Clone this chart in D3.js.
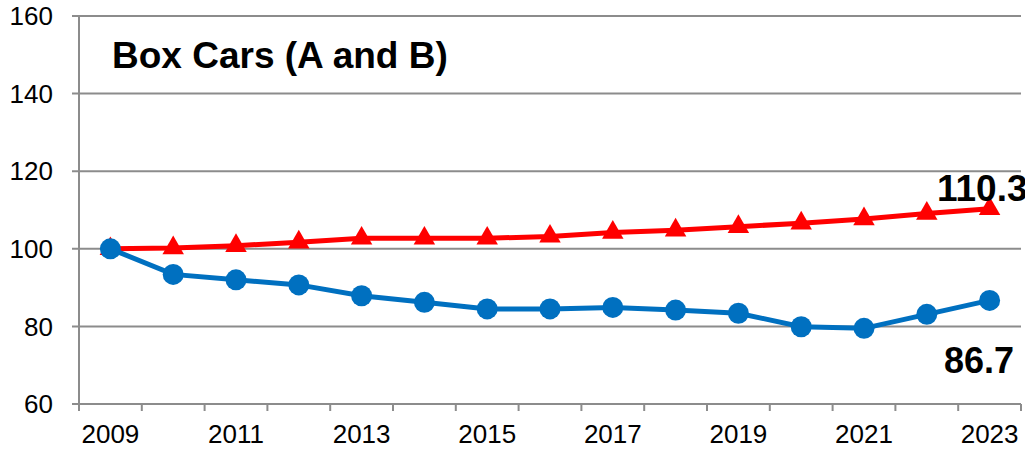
<!DOCTYPE html>
<html>
  <head>
    <meta charset="utf-8">
    <script src="https://d3js.org/d3.v7.min.js"></script>
    <style>
    body {
      margin: 0;
      background: #fff;
    }

    svg text {
      font-family: Arial, "Liberation Sans", sans-serif;
      fill: #000;
    }

    .grid line,
    .axis line {
      stroke: #8c8c8c;
      stroke-width: 2px;
    }
  </style>
  </head>
  <body>
    <svg id="chart" width="1025" height="450"></svg>
    <script>
    var years = [2009, 2010, 2011, 2012, 2013, 2014, 2015, 2016, 2017, 2018, 2019, 2020, 2021, 2022, 2023];
    var carloads = [100, 100.2, 100.8, 101.7, 102.7, 102.7, 102.7, 103.2, 104.2, 104.8, 105.7, 106.6, 107.7, 109.1, 110.3];
    var fleet = [100, 93.4, 92.0, 90.7, 87.9, 86.2, 84.5, 84.5, 84.9, 84.2, 83.4, 79.9, 79.5, 83.1, 86.7];
    var yTicks = [60, 80, 100, 120, 140, 160];
    var xLabels = [2009, 2011, 2013, 2015, 2017, 2019, 2021, 2023];

    var svg = d3.select('#chart');
    var plotLeft = 79, plotRight = 1021, plotTop = 16, plotBottom = 404;

    var x = d3.scaleBand()
      .domain(years)
      .range([plotLeft, plotRight]);

    var y = d3.scaleLinear()
      .domain([60, 160])
      .range([plotBottom, plotTop]);

    function cx(i) {
      return x(years[i]) + x.bandwidth() / 2;
    }

    // horizontal grid with small ticks to the left of the axis
    svg.append('g')
      .attr('class', 'grid')
      .selectAll('line')
      .data(yTicks)
      .enter().append('line')
        .attr('x1', plotLeft - 7)
        .attr('x2', plotRight)
        .attr('y1', function (d) { return y(d); })
        .attr('y2', function (d) { return y(d); });

    svg.append('g')
      .selectAll('text')
      .data(yTicks)
      .enter().append('text')
        .attr('x', 53)
        .attr('y', function (d) { return y(d); })
        .attr('dy', '0.35em')
        .attr('text-anchor', 'end')
        .style('font-size', '26px')
        .text(function (d) { return d; });

    // y axis line
    svg.append('line')
      .attr('x1', plotLeft).attr('x2', plotLeft)
      .attr('y1', plotTop).attr('y2', plotBottom)
      .style('stroke', '#8c8c8c')
      .style('stroke-width', '2px');

    // x axis tick marks at band edges
    var edges = years.map(function (d) { return x(d); }).concat([plotRight]);
    svg.append('g')
      .attr('class', 'axis')
      .selectAll('line')
      .data(edges)
      .enter().append('line')
        .attr('x1', function (d) { return d; })
        .attr('x2', function (d) { return d; })
        .attr('y1', plotBottom)
        .attr('y2', plotBottom + 7);

    svg.append('g')
      .selectAll('text')
      .data(xLabels)
      .enter().append('text')
        .attr('x', function (d) { return x(d) + x.bandwidth() / 2; })
        .attr('y', 443)
        .attr('text-anchor', 'middle')
        .style('font-size', '26px')
        .text(function (d) { return d; });

    var line = d3.line()
      .x(function (d, i) { return cx(i); })
      .y(function (d) { return y(d); });

    // red series with triangles
    svg.append('path')
      .datum(carloads)
      .attr('d', line)
      .attr('fill', 'none')
      .attr('stroke', '#ff0000')
      .attr('stroke-width', 5);

    svg.append('g')
      .selectAll('path')
      .data(carloads)
      .enter().append('path')
        .attr('d', d3.symbol().type(d3.symbolTriangle).size(200))
        .attr('transform', function (d, i) {
          return 'translate(' + cx(i) + ',' + y(d) + ')';
        })
        .attr('fill', '#ff0000');

    // blue series with circles
    svg.append('path')
      .datum(fleet)
      .attr('d', line)
      .attr('fill', 'none')
      .attr('stroke', '#0070c0')
      .attr('stroke-width', 5);

    svg.append('g')
      .selectAll('circle')
      .data(fleet)
      .enter().append('circle')
        .attr('cx', function (d, i) { return cx(i); })
        .attr('cy', function (d) { return y(d); })
        .attr('r', 10.5)
        .attr('fill', '#0070c0');

    svg.append('text')
      .attr('x', 112)
      .attr('y', 68)
      .style('font-size', '37px')
      .style('font-weight', 'bold')
      .text('Box Cars (A and B)');

    svg.append('text')
      .attr('x', 937)
      .attr('y', 201)
      .style('font-size', '37px')
      .style('font-weight', 'bold')
      .text(carloads[carloads.length - 1].toFixed(1));

    svg.append('text')
      .attr('x', 944)
      .attr('y', 373)
      .style('font-size', '36px')
      .style('font-weight', 'bold')
      .text(fleet[fleet.length - 1].toFixed(1));
  </script>
  </body>
</html>
